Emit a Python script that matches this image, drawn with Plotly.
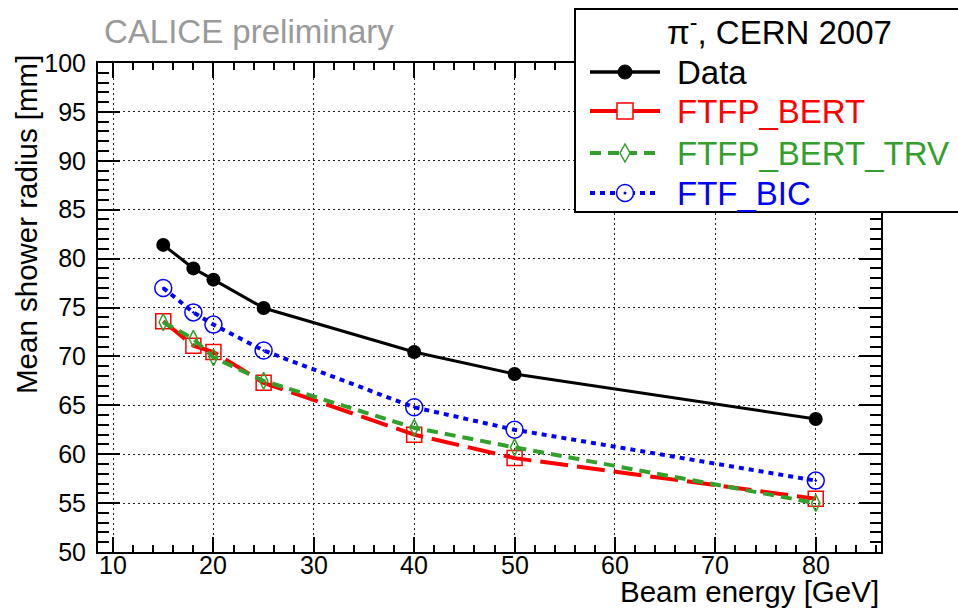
import plotly.graph_objects as go

# ---- data ----
energy = [15, 18, 20, 25, 40, 50, 80]
data_radius = [81.4, 79.0, 77.85, 74.95, 70.45, 68.2, 63.6]
ftfp_bert = [73.6, 71.1, 70.45, 67.3, 62.0, 59.6, 55.45]
ftfp_bert_trv = [73.5, 71.8, 69.9, 67.5, 62.7, 60.7, 55.0]
ftf_bic = [77.0, 74.5, 73.25, 70.6, 64.8, 62.5, 57.3]

x_ticks = [10, 20, 30, 40, 50, 60, 70, 80]
x_tick_labels = ["10", "20", "30", "40", "50", "60", "70", "80"]
y_ticks = [50, 55, 60, 65, 70, 75, 80, 85, 90, 95, 100]

W, H = 958, 609
ML, MR, MT, MB = 98, 77, 63, 57
PW, PH = W - ML - MR, H - MT - MB

def px(x):
    return (x - ML) / PW

def py(y):
    return (H - MB - y) / PH

FONT = "Liberation Sans, Arial, sans-serif"

fig = go.Figure()
fig.add_trace(go.Scatter(x=energy, y=data_radius, mode="lines+markers", name="Data",
                         line=dict(color="black", width=3),
                         marker=dict(symbol="circle", size=14, color="black")))
fig.add_trace(go.Scatter(x=energy, y=ftfp_bert, mode="lines+markers", name="FTFP_BERT",
                         line=dict(color="#ff0000", width=4, dash="28px,9px"),
                         marker=dict(symbol="square-open", size=15, color="#ff0000",
                                     line=dict(width=1.5))))
fig.add_trace(go.Scatter(x=energy, y=ftfp_bert_trv, mode="lines+markers", name="FTFP_BERT_TRV",
                         line=dict(color="#33a02c", width=4, dash="11px,7px"),
                         marker=dict(symbol="diamond-tall-open", size=12, color="#33a02c",
                                     line=dict(width=1.5))))
fig.add_trace(go.Scatter(x=energy, y=ftf_bic, mode="lines+markers", name="FTF_BIC",
                         line=dict(color="#0000ff", width=4, dash="5px,5px"),
                         marker=dict(symbol="circle-open-dot", size=17, color="#0000ff",
                                     line=dict(width=1.5))))

axis_common = dict(showline=True, linecolor="black", linewidth=2, mirror="allticks",
                   ticks="inside", tickcolor="black", tickwidth=1.5,
                   showgrid=True, gridcolor="#222", gridwidth=1, griddash="2px,3px",
                   zeroline=False,
                   tickfont=dict(family=FONT, size=25, color="black"))

fig.update_xaxes(range=[8.5, 86.5], tickvals=x_ticks, ticklen=15, showticklabels=False,
                 minor=dict(dtick=2, tick0=0, ticklen=7, ticks="inside", tickcolor="black",
                            tickwidth=1.5, showgrid=False),
                 **axis_common)
fig.update_yaxes(range=[50, 100], tickvals=y_ticks, ticklen=22,
                 minor=dict(dtick=1, tick0=0, ticklen=11, ticks="inside", tickcolor="black",
                            tickwidth=1.5, showgrid=False),
                 ticklabelstandoff=5, **axis_common)

shapes = []
annotations = []

# x tick labels placed via the x axis scale
for xv, lab in zip(x_ticks, x_tick_labels):
    annotations.append(dict(text=lab, xref="x", yref="paper", x=xv, y=py(565),
                            xanchor="center", yanchor="middle", showarrow=False,
                            font=dict(family=FONT, size=25, color="black")))

# legend box
LX0, LY0, LX1, LY1 = 575, 9, 962, 212
shapes.append(dict(type="rect", xref="paper", yref="paper", layer="above",
                   x0=px(LX0), x1=px(LX1), y0=py(LY1), y1=py(LY0),
                   fillcolor="white", line=dict(color="black", width=2)))

legend_rows = [
    ("Data", "black", 72, dict(width=3.5), "dot_filled"),
    ("FTFP_BERT", "#ff0000", 111, dict(width=4), "square"),
    ("FTFP_BERT_TRV", "#33a02c", 153, dict(width=4, dash="11px,7px"), "diamond"),
    ("FTF_BIC", "#0000ff", 193, dict(width=4, dash="5px,5px"), "circle"),
]
for label, col, yy, ls, mk in legend_rows:
    shapes.append(dict(type="line", xref="paper", yref="paper", layer="above",
                       x0=px(590), x1=px(660), y0=py(yy), y1=py(yy),
                       line=dict(color=col, **ls)))
    cx = 625
    if mk == "dot_filled":
        r = 7
        shapes.append(dict(type="circle", xref="paper", yref="paper", layer="above",
                           x0=px(cx - r), x1=px(cx + r), y0=py(yy + r), y1=py(yy - r),
                           fillcolor="black", line=dict(color="black", width=1)))
    elif mk == "square":
        r = 8
        shapes.append(dict(type="rect", xref="paper", yref="paper", layer="above",
                           x0=px(cx - r), x1=px(cx + r), y0=py(yy + r), y1=py(yy - r),
                           fillcolor="white", line=dict(color=col, width=1.5)))
    elif mk == "diamond":
        a, b = 5, 9
        path = "M {} {} L {} {} L {} {} L {} {} Z".format(
            px(cx), py(yy - b), px(cx + a), py(yy), px(cx), py(yy + b), px(cx - a), py(yy))
        shapes.append(dict(type="path", xref="paper", yref="paper", layer="above",
                           path=path, fillcolor="white", line=dict(color=col, width=1.5)))
    elif mk == "circle":
        r = 8.5
        shapes.append(dict(type="circle", xref="paper", yref="paper", layer="above",
                           x0=px(cx - r), x1=px(cx + r), y0=py(yy + r), y1=py(yy - r),
                           fillcolor="white", line=dict(color=col, width=1.5)))
        shapes.append(dict(type="circle", xref="paper", yref="paper", layer="above",
                           x0=px(cx - 1.5), x1=px(cx + 1.5), y0=py(yy + 1.5), y1=py(yy - 1.5),
                           fillcolor=col, line=dict(color=col, width=0)))
    annotations.append(dict(text=label, xref="paper", yref="paper", x=px(675), y=py(yy),
                            xanchor="left", yanchor="middle", showarrow=False,
                            font=dict(family=FONT, size=33, color=col)))

annotations.append(dict(text="π<sup>-</sup>, CERN 2007", xref="paper", yref="paper",
                        x=px(779), y=py(30), xanchor="center", yanchor="middle",
                        showarrow=False, font=dict(family=FONT, size=33, color="black")))

annotations.append(dict(text="CALICE preliminary", xref="paper", yref="paper",
                        x=px(102), y=py(31), xanchor="left", yanchor="middle",
                        showarrow=False, font=dict(family=FONT, size=33, color="#9a9a9a")))

annotations.append(dict(text="Mean shower radius [mm]", xref="paper", yref="paper",
                        x=px(26), y=py(225), xanchor="center", yanchor="middle",
                        textangle=-90, showarrow=False,
                        font=dict(family=FONT, size=29.5, color="black")))

annotations.append(dict(text="Beam energy [GeV]", xref="paper", yref="paper",
                        x=px(881), y=py(591), xanchor="right", yanchor="middle",
                        showarrow=False, font=dict(family=FONT, size=29.5, color="black")))

fig.update_layout(width=W, height=H, margin=dict(l=ML, r=MR, t=MT, b=MB),
                  paper_bgcolor="white", plot_bgcolor="white", showlegend=False,
                  shapes=shapes, annotations=annotations,
                  font=dict(family=FONT, color="black"))

fig.write_html("out.html", config={"displayModeBar": False},
               post_script="document.body.style.margin='0';document.body.style.overflow='hidden';")
